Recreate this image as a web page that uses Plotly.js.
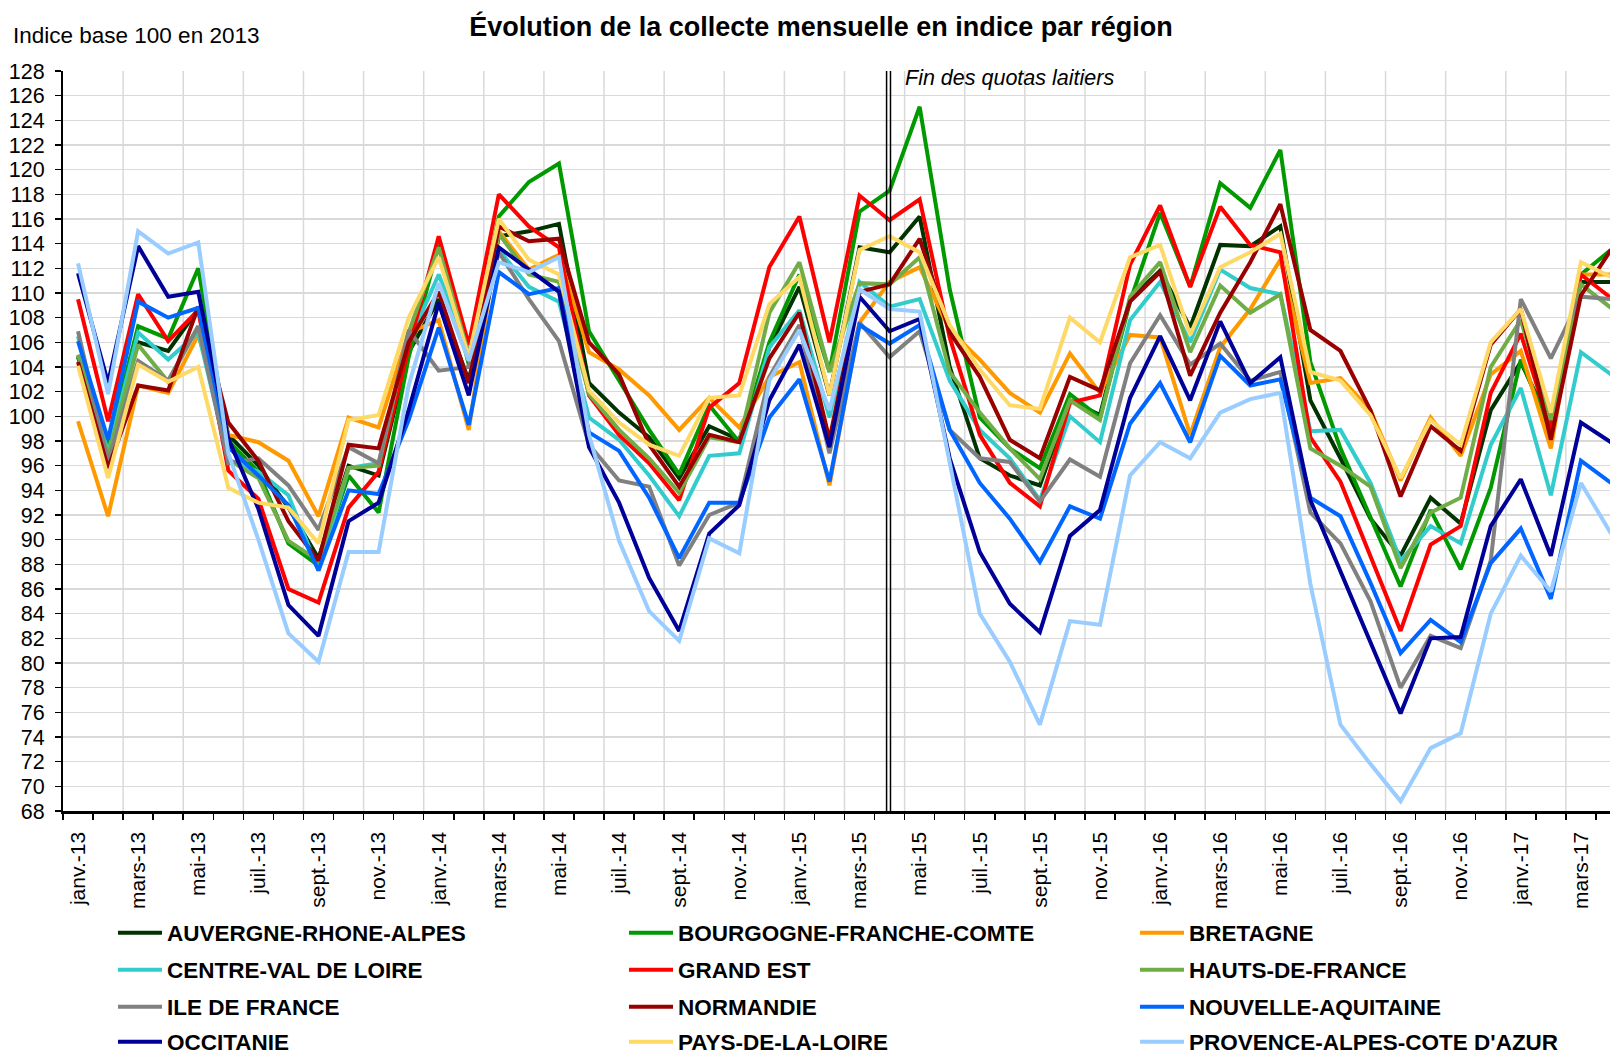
<!DOCTYPE html>
<html>
<head>
<meta charset="utf-8">
<script src="https://cdn.plot.ly/plotly-3.0.1.min.js"></script>
<style>
html, body { margin: 0; padding: 0; overflow: hidden; background: #fff; }
#chart { width: 1626px; height: 1058px; }
</style>
</head>
<body>
<div id="chart"></div>
<script>
const months = [
    'janv.-13', 'févr.-13', 'mars-13', 'avr.-13', 'mai-13', 'juin-13', 'juil.-13', 'août-13', 'sept.-13', 'oct.-13', 'nov.-13', 'déc.-13',
    'janv.-14', 'févr.-14', 'mars-14', 'avr.-14', 'mai-14', 'juin-14', 'juil.-14', 'août-14', 'sept.-14', 'oct.-14', 'nov.-14', 'déc.-14',
    'janv.-15', 'févr.-15', 'mars-15', 'avr.-15', 'mai-15', 'juin-15', 'juil.-15', 'août-15', 'sept.-15', 'oct.-15', 'nov.-15', 'déc.-15',
    'janv.-16', 'févr.-16', 'mars-16', 'avr.-16', 'mai-16', 'juin-16', 'juil.-16', 'août-16', 'sept.-16', 'oct.-16', 'nov.-16', 'déc.-16',
    'janv.-17', 'févr.-17', 'mars-17', 'avr.-17'
]

const auvergne = [104.8, 97.3, 106.0, 105.3, 108.7, 98.5, 96.0, 92.6, 88.5, 96.0, 95.2, 105.2, 109.5, 102.9, 114.6, 115.0, 115.6, 102.7, 100.3, 98.3, 95.0, 99.2, 98.1, 105.6, 110.5, 101.7, 113.7, 113.3, 116.2, 104.0, 96.6, 95.2, 94.4, 101.3, 100.1, 109.5, 111.8, 107.2, 113.9, 113.8, 115.4, 101.3, 96.6, 91.7, 88.7, 93.4, 91.3, 100.5, 104.4, 99.3, 110.9, 110.9]
const bourgogne = [104.9, 97.7, 107.3, 106.3, 112.0, 98.0, 95.5, 89.7, 87.9, 95.2, 92.2, 104.8, 113.9, 104.2, 116.2, 119.0, 120.5, 106.9, 102.9, 98.9, 95.3, 100.9, 97.9, 106.0, 111.5, 103.6, 116.6, 118.3, 125.1, 110.3, 99.9, 97.4, 95.8, 101.8, 99.9, 109.3, 116.5, 110.5, 118.9, 116.9, 121.6, 104.4, 97.4, 91.7, 86.2, 92.4, 87.6, 94.2, 104.6, 98.7, 111.5, 113.5]
const bretagne = [99.6, 91.9, 102.5, 101.9, 106.6, 98.5, 97.9, 96.4, 91.9, 99.9, 99.1, 106.8, 107.8, 98.9, 115.0, 111.9, 113.1, 105.2, 103.8, 101.7, 98.9, 101.5, 99.1, 103.2, 104.4, 94.4, 107.6, 110.9, 112.1, 107.0, 104.6, 101.9, 100.3, 105.1, 101.9, 106.6, 106.4, 98.5, 105.6, 108.7, 112.7, 102.7, 103.1, 100.5, 94.8, 99.9, 96.8, 103.4, 105.3, 97.4, 111.5, 111.5]
const centre = [106.5, 97.0, 106.8, 104.6, 106.8, 96.5, 95.5, 93.6, 87.5, 95.8, 96.2, 106.0, 111.5, 105.2, 113.5, 110.5, 109.3, 99.9, 98.1, 95.2, 91.9, 96.8, 97.0, 105.6, 108.6, 99.9, 110.9, 108.9, 109.5, 102.9, 98.9, 96.6, 93.2, 100.0, 97.9, 107.8, 110.9, 106.0, 111.9, 110.4, 109.9, 98.8, 98.9, 94.6, 88.3, 91.1, 89.7, 97.7, 102.3, 93.6, 105.2, 103.4]
const grandEst = [109.5, 99.6, 109.9, 106.1, 108.6, 95.6, 93.3, 86.0, 84.9, 92.6, 95.5, 105.6, 114.6, 105.8, 118.0, 115.4, 113.7, 101.7, 98.5, 96.2, 93.2, 100.7, 102.7, 112.1, 116.2, 106.0, 117.9, 115.9, 117.6, 106.4, 98.5, 94.6, 92.7, 101.1, 101.7, 112.3, 117.1, 110.5, 117.0, 113.9, 113.3, 98.3, 94.7, 88.7, 82.6, 89.6, 91.1, 101.9, 106.7, 98.9, 111.5, 109.6]
const hauts = [105.0, 96.8, 105.8, 102.8, 107.3, 96.5, 95.0, 89.9, 88.3, 95.8, 96.0, 106.8, 113.7, 105.0, 114.8, 111.5, 110.9, 101.8, 98.9, 96.6, 93.8, 98.3, 97.9, 108.4, 112.5, 103.6, 110.8, 110.7, 112.9, 103.6, 100.3, 97.4, 94.9, 101.3, 99.7, 109.7, 112.5, 105.2, 110.6, 108.4, 109.9, 97.4, 96.0, 94.3, 87.7, 92.2, 93.4, 104.0, 107.8, 99.7, 110.7, 108.8]
const ile = [106.9, 96.3, 104.5, 102.9, 107.3, 96.2, 96.6, 94.4, 90.8, 97.5, 96.2, 107.0, 103.7, 104.0, 113.3, 109.5, 106.1, 97.7, 94.8, 94.3, 87.9, 92.0, 93.0, 103.2, 107.4, 97.0, 107.6, 104.8, 106.9, 98.9, 96.6, 96.3, 93.1, 96.5, 95.1, 104.3, 108.2, 104.2, 105.9, 102.9, 103.6, 92.2, 89.7, 85.0, 78.0, 82.2, 81.2, 88.3, 109.5, 104.7, 109.7, 109.5]
const normandie = [104.4, 95.8, 102.5, 102.1, 108.9, 99.5, 96.4, 91.5, 88.3, 97.7, 97.4, 106.0, 110.1, 102.7, 115.4, 114.2, 114.4, 106.0, 103.4, 97.7, 94.3, 98.5, 97.9, 104.7, 108.4, 98.1, 110.1, 110.7, 114.4, 106.8, 103.2, 98.1, 96.6, 103.2, 102.1, 109.3, 111.7, 103.3, 108.4, 112.5, 117.2, 107.0, 105.3, 100.5, 93.5, 99.2, 97.2, 105.8, 108.7, 98.1, 109.8, 113.5]
const nouvelle = [106.1, 98.1, 109.3, 108.0, 108.8, 97.5, 95.2, 92.8, 87.5, 94.0, 93.7, 99.7, 107.2, 99.3, 111.7, 109.9, 110.4, 98.7, 97.2, 93.4, 88.5, 93.0, 93.0, 99.9, 103.0, 94.7, 107.4, 105.9, 107.4, 98.9, 94.6, 91.7, 88.2, 92.7, 91.7, 99.4, 102.7, 97.9, 104.9, 102.5, 103.0, 93.4, 91.9, 86.5, 80.8, 83.5, 81.7, 88.1, 90.9, 85.2, 96.4, 94.6]
const occitanie = [111.6, 102.7, 113.8, 109.7, 110.1, 98.2, 92.5, 84.7, 82.2, 91.5, 93.0, 100.5, 109.2, 101.7, 113.7, 111.9, 110.1, 97.5, 93.0, 86.9, 82.6, 90.5, 92.8, 101.3, 105.8, 97.5, 109.7, 106.9, 107.9, 96.6, 89.0, 84.8, 82.5, 90.3, 92.4, 101.5, 106.5, 101.3, 107.7, 102.7, 104.8, 93.2, 87.5, 81.6, 75.9, 82.0, 82.1, 91.1, 94.9, 88.7, 99.5, 97.9]
const paysLoire = [104.1, 95.0, 104.2, 102.8, 104.0, 94.2, 93.0, 92.6, 89.7, 99.7, 100.1, 108.0, 112.9, 104.8, 116.0, 112.7, 111.5, 102.1, 99.5, 97.7, 96.8, 101.5, 101.7, 109.1, 111.3, 101.7, 113.5, 114.6, 113.3, 107.4, 103.8, 100.9, 100.6, 108.0, 106.0, 112.9, 113.9, 106.6, 112.1, 113.3, 114.8, 103.6, 102.9, 100.1, 95.0, 99.7, 97.7, 106.0, 108.7, 100.3, 112.5, 111.3]
const paca = [112.4, 101.8, 115.0, 113.2, 114.1, 97.0, 90.0, 82.4, 80.1, 89.0, 89.0, 102.5, 110.8, 104.5, 112.5, 111.7, 112.9, 98.5, 89.9, 84.2, 81.8, 90.1, 88.9, 102.9, 107.0, 100.5, 110.3, 108.7, 108.5, 96.2, 84.0, 80.1, 75.0, 83.4, 83.1, 95.2, 97.9, 96.6, 100.3, 101.4, 101.9, 86.4, 75.0, 71.8, 68.8, 73.1, 74.3, 84.0, 88.7, 85.8, 94.6, 90.5]

const regions = [
    { name: 'AUVERGNE-RHONE-ALPES', values: auvergne, color: '#003300', legend: 'legend' },
    { name: 'BOURGOGNE-FRANCHE-COMTE', values: bourgogne, color: '#009900', legend: 'legend' },
    { name: 'BRETAGNE', values: bretagne, color: '#FF9900', legend: 'legend' },
    { name: 'CENTRE-VAL DE LOIRE', values: centre, color: '#33CCCC', legend: 'legend2' },
    { name: 'GRAND EST', values: grandEst, color: '#FF0000', legend: 'legend2' },
    { name: 'HAUTS-DE-FRANCE', values: hauts, color: '#70AD47', legend: 'legend2' },
    { name: 'ILE DE FRANCE', values: ile, color: '#808080', legend: 'legend3' },
    { name: 'NORMANDIE', values: normandie, color: '#990000', legend: 'legend3' },
    { name: 'NOUVELLE-AQUITAINE', values: nouvelle, color: '#0066FF', legend: 'legend3' },
    { name: 'OCCITANIE', values: occitanie, color: '#000099', legend: 'legend4' },
    { name: 'PAYS-DE-LA-LOIRE', values: paysLoire, color: '#FFD966', legend: 'legend4' },
    { name: 'PROVENCE-ALPES-COTE D\'AZUR', values: paca, color: '#99CCFF', legend: 'legend4' }
]

const font = 'Liberation Sans, Arial, sans-serif'
const xIndex = months.map(function (m, i) { return i })

const traces = regions.map(function (r) {
    return {
        x: xIndex,
        y: r.values,
        type: 'scatter',
        mode: 'lines',
        name: r.name,
        legend: r.legend,
        line: { color: r.color, width: 4 },
        text: months,
        hoverinfo: 'skip'
    }
})

// labels every second month, like the original
const tickVals = xIndex.filter(function (i) { return i % 2 === 0 })
const tickText = tickVals.map(function (i) { return months[i] })

// vertical gridlines sit between months, every two months
const shapes = []
for (let g = 1.5; g < months.length; g += 2) {
    shapes.push({
        type: 'line', layer: 'below', xref: 'x', yref: 'paper',
        x0: g, x1: g, y0: 0, y1: 1,
        line: { color: '#d9d9d9', width: 1.5 }
    })
}
// double line: end of milk quotas (avr.-15)
const quotaMonth = months.indexOf('avr.-15')
shapes.push({ type: 'line', xref: 'x', yref: 'paper', x0: quotaMonth - 0.1, x1: quotaMonth - 0.1, y0: 0, y1: 1, line: { color: 'black', width: 1.5 } })
shapes.push({ type: 'line', xref: 'x', yref: 'paper', x0: quotaMonth + 0.03, x1: quotaMonth + 0.03, y0: 0, y1: 1, line: { color: 'black', width: 1.5 } })

function legendRow(yPix) {
    return {
        orientation: 'h',
        xref: 'container', yref: 'container',
        x: 113 / 1626, y: 1 - yPix / 1058,
        xanchor: 'left', yanchor: 'middle',
        entrywidth: 452, entrywidthmode: 'pixels',
        itemwidth: 44,
        bgcolor: 'rgba(0,0,0,0)',
        font: { family: font, size: 22.5, color: 'black', weight: 'bold' }
    }
}

const layout = {
    width: 1626,
    height: 1058,
    margin: { l: 63, r: 0, t: 71, b: 247 },
    paper_bgcolor: 'white',
    plot_bgcolor: 'white',
    font: { family: font, color: 'black', size: 21 },
    title: {
        text: 'Évolution de la collecte mensuelle en indice par région',
        font: { family: font, size: 27, color: 'black', weight: 'bold' },
        xref: 'container', yref: 'container',
        x: 821 / 1626, y: 1 - 27 / 1058,
        xanchor: 'center', yanchor: 'middle'
    },
    showlegend: true,
    legend: legendRow(933),
    legend2: legendRow(970),
    legend3: legendRow(1007),
    legend4: legendRow(1042),
    hovermode: false,
    xaxis: {
        range: [-0.5, months.length - 0.5],
        tickmode: 'array',
        tickvals: tickVals,
        ticktext: tickText,
        tickangle: -90,
        ticks: '',
        ticklabelstandoff: 10,
        tickfont: { family: font, size: 21, color: 'black' },
        showgrid: false,
        zeroline: false,
        showline: true,
        linecolor: 'black',
        linewidth: 2.5,
        minor: { tickmode: 'linear', tick0: -0.5, dtick: 1, ticks: 'outside', ticklen: 6, tickwidth: 1.5, tickcolor: 'black', showgrid: false }
    },
    yaxis: {
        range: [68, 128],
        tickmode: 'linear',
        tick0: 68,
        dtick: 2,
        ticks: 'outside',
        ticklen: 6,
        tickwidth: 1.5,
        tickcolor: 'black',
        ticklabelstandoff: 6,
        tickfont: { family: font, size: 21.5, color: 'black' },
        showgrid: true,
        gridcolor: '#d9d9d9',
        gridwidth: 1.5,
        zeroline: false,
        showline: true,
        linecolor: 'black',
        linewidth: 2
    },
    shapes: shapes,
    annotations: [
        {
            text: 'Indice base 100 en 2013',
            xref: 'paper', yref: 'paper',
            x: (11 - 63) / 1563, y: (811 - 36) / 740,
            xanchor: 'left', yanchor: 'middle',
            showarrow: false,
            font: { family: font, size: 22.5, color: 'black' }
        },
        {
            text: '<i>Fin des quotas laitiers</i>',
            xref: 'paper', yref: 'paper',
            x: (903 - 63) / 1563, y: (811 - 78) / 740,
            xanchor: 'left', yanchor: 'middle',
            showarrow: false,
            font: { family: font, size: 21.5, color: 'black' }
        }
    ]
}

Plotly.newPlot('chart', traces, layout, { displayModeBar: false, staticPlot: true })
</script>
</body>
</html>
